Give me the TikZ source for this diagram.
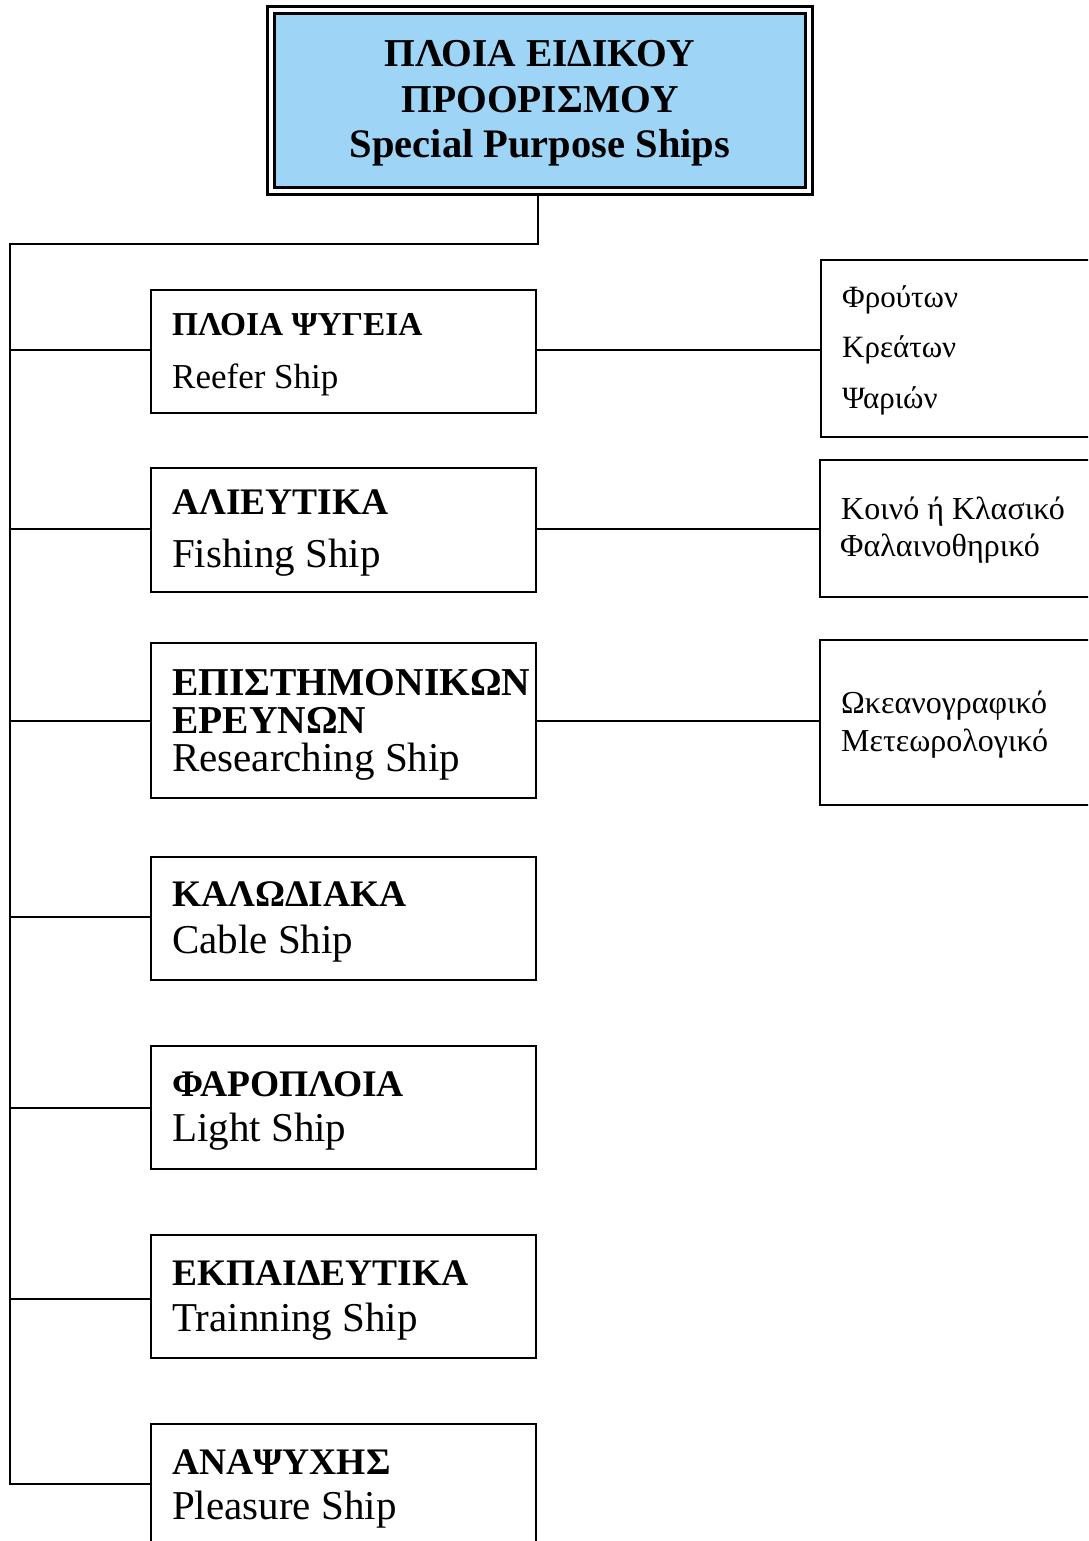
\documentclass[tikz,border=0pt]{standalone}
\usepackage{fontspec}
\setmainfont{Liberation Serif}
\definecolor{topblue}{RGB}{158,212,245}
\begin{document}
\begin{tikzpicture}[x=1pt,y=-1pt,
  conn/.style={line width=2.6pt, line cap=rect},
  shipbox/.style={draw, line width=2.6pt, rectangle, inner sep=0pt, outer sep=0pt},
  gr/.style={anchor=base west, inner sep=0pt, font=\fontsize{37.5}{40}\selectfont\bfseries},
  grs/.style={anchor=base west, inner sep=0pt, font=\fontsize{33.4}{36}\selectfont\bfseries},
  en/.style={anchor=base west, inner sep=0pt, font=\fontsize{41}{44}\selectfont},
  ens/.style={anchor=base west, inner sep=0pt, font=\fontsize{35}{38}\selectfont},
  sub/.style={anchor=base west, inner sep=0pt, font=\fontsize{32}{34}\selectfont},
  subs/.style={anchor=base west, inner sep=0pt, font=\fontsize{31}{34}\selectfont},
  ttl/.style={anchor=base, inner sep=0pt, font=\fontsize{39.5}{42}\selectfont\bfseries},
  ttle/.style={anchor=base, inner sep=0pt, font=\fontsize{40.5}{42}\selectfont\bfseries}]
\useasboundingbox (0,0) rectangle (1088,1541);
\clip (0,0) rectangle (1088,1541);
% top box
\node[draw, line width=3pt, rectangle, minimum width=545pt, minimum height=188pt, inner sep=0pt] (topout) at (539.5,101) {};
\node[draw, line width=3pt, fill=topblue, rectangle, minimum width=531pt, minimum height=174pt, inner sep=0pt] (top) at (539.5,101) {};
\node[ttl] (t1) at (540,67) {ΠΛΟΙΑ ΕΙΔΙΚΟΥ};
\node[ttl] (t2) at (540,113) {ΠΡΟΟΡΙΣΜΟΥ};
\node[ttle] (t3) at (540,158) {Special Purpose Ships};
% left boxes
\node[shipbox, minimum width=385pt, minimum height=123pt] (b1) at (343.5,351.5) {};
\node[shipbox, minimum width=385pt, minimum height=124pt] (b2) at (343.5,530) {};
\node[shipbox, minimum width=385pt, minimum height=155pt] (b3) at (343.5,720.5) {};
\node[shipbox, minimum width=385pt, minimum height=123pt] (b4) at (343.5,918.5) {};
\node[shipbox, minimum width=385pt, minimum height=123pt] (b5) at (343.5,1107.5) {};
\node[shipbox, minimum width=385pt, minimum height=123pt] (b6) at (343.5,1296.5) {};
\node[shipbox, minimum width=385pt, minimum height=140pt] (b7) at (343.5,1494) {};
% left texts
\node[grs] (g1) at (172,335) {ΠΛΟΙΑ ΨΥΓΕΙΑ};
\node[ens] (e1) at (172,388) {Reefer Ship};
\node[gr] (g2) at (172,514) {ΑΛΙΕΥΤΙΚΑ};
\node[en] (e2) at (172,567) {Fishing Ship};
\node[gr, font=\fontsize{39.5}{40}\selectfont\bfseries] (g3) at (172,695) {ΕΠΙΣΤΗΜΟΝΙΚΩΝ};
\node[gr, font=\fontsize{39.5}{40}\selectfont\bfseries] (g3b) at (172,733) {ΕΡΕΥΝΩΝ};
\node[en] (e3) at (172,771) {Researching Ship};
\node[gr] (g4) at (172,906) {ΚΑΛΩΔΙΑΚΑ};
\node[en] (e4) at (172,953) {Cable Ship};
\node[gr] (g5) at (172,1096) {ΦΑΡΟΠΛΟΙΑ};
\node[en] (e5) at (172,1141) {Light Ship};
\node[gr] (g6) at (172,1285) {ΕΚΠΑΙΔΕΥΤΙΚΑ};
\node[en] (e6) at (172,1331) {Trainning Ship};
\node[gr] (g7) at (172,1474) {ΑΝΑΨΥΧΗΣ};
\node[en] (e7) at (172,1519) {Pleasure Ship};
% right boxes
\node[shipbox, minimum width=280pt, minimum height=177pt] (r1) at (961,348.5) {};
\node[shipbox, minimum width=281pt, minimum height=137pt] (r2) at (960.5,528.5) {};
\node[shipbox, minimum width=281pt, minimum height=165pt] (r3) at (960.5,722.5) {};
\node[subs] (s1a) at (842,307) {Φρούτων};
\node[subs] (s1b) at (842,357) {Κρεάτων};
\node[subs] (s1c) at (842,408) {Ψαριών};
\node[sub] (s2a) at (841,519) {Κοινό ή Κλασικό};
\node[sub] (s2b) at (840,556) {Φαλαινοθηρικό};
\node[sub] (s3a) at (841,713) {Ωκεανογραφικό};
\node[sub] (s3b) at (841,751) {Μετεωρολογικό};
% trunk
\coordinate (turn) at (538,244);
\coordinate (tl) at (10,244);
\coordinate (k1) at (10,350);
\coordinate (k2) at (10,529);
\coordinate (k3) at (10,721);
\coordinate (k4) at (10,917);
\coordinate (k5) at (10,1108);
\coordinate (k6) at (10,1299);
\coordinate (k7) at (10,1484);
\draw[conn] (topout.south -| turn) -- (turn) -- (tl) -- (k7);
\draw[conn] (k1) -- (k1 -| b1.west);
\draw[conn] (k2) -- (k2 -| b2.west);
\draw[conn] (k3) -- (k3 -| b3.west);
\draw[conn] (k4) -- (k4 -| b4.west);
\draw[conn] (k5) -- (k5 -| b5.west);
\draw[conn] (k6) -- (k6 -| b6.west);
\draw[conn] (k7) -- (k7 -| b7.west);
\draw[conn] (k1 -| b1.east) -- (k1 -| r1.west);
\draw[conn] (k2 -| b2.east) -- (k2 -| r2.west);
\draw[conn] (k3 -| b3.east) -- (k3 -| r3.west);
\end{tikzpicture}
\end{document}
